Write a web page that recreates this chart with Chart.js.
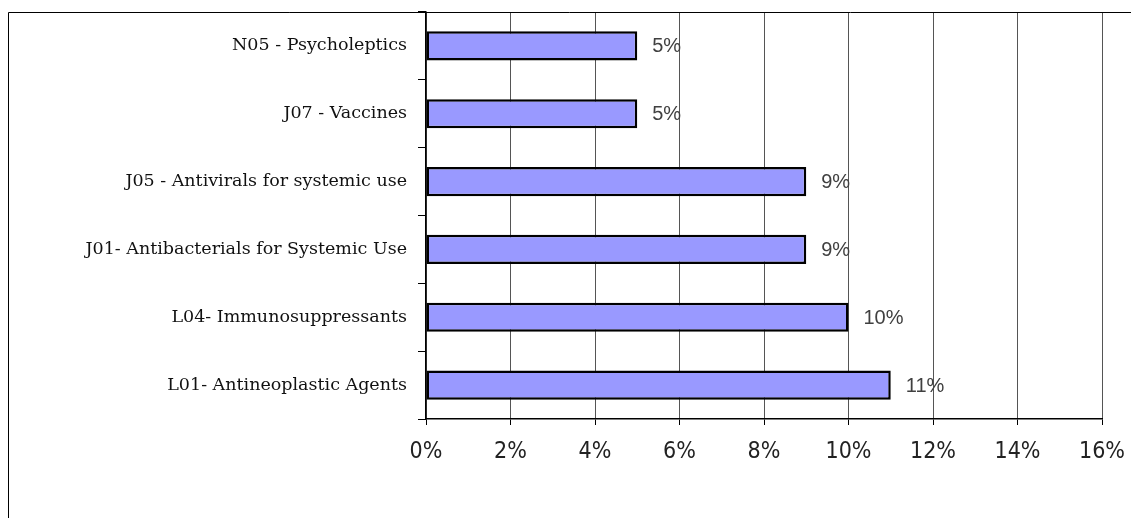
<!DOCTYPE html>
<html>
<head>
<meta charset="utf-8">
<script src="https://cdn.jsdelivr.net/npm/chart.js@4/dist/chart.umd.min.js"></script>
<style>
  body { margin: 0; background: #fff; }
  canvas { display: block; }
</style>
</head>
<body>
<canvas id="bar-chartcanvas" width="1131" height="518"></canvas>
<script>
// ATC groups, top to bottom as in the picture
var categories = [
	"N05 - Psycholeptics",
	"J07 - Vaccines",
	"J05 - Antivirals for systemic use",
	"J01- Antibacterials for Systemic Use",
	"L04- Immunosuppressants",
	"L01- Antineoplastic Agents"
];
var shares = [5, 5, 9, 9, 10, 11];
var xTicks = [0, 2, 4, 6, 8, 10, 12, 14, 16];

// outer frame (left and top edges only are visible)
var framePlugin = {
	id : "frame",
	afterDraw : function(chart) {
		var c = chart.ctx;
		c.save();
		c.strokeStyle = "#000";
		c.lineWidth = 1;
		c.beginPath();
		c.moveTo(8.5, 518);
		c.lineTo(8.5, 12.5);
		c.lineTo(1131, 12.5);
		c.stroke();
		c.restore();
	}
};

// value labels next to the bars
var valueLabels = {
	id : "valueLabels",
	afterDatasetsDraw : function(chart) {
		var c = chart.ctx;
		var meta = chart.getDatasetMeta(0);
		c.save();
		c.font = "20px 'Liberation Sans', Arial, sans-serif";
		c.fillStyle = "#404040";
		c.textAlign = "left";
		c.textBaseline = "middle";
		meta.data.forEach(function(bar, i) {
			c.fillText(shares[i] + "%", bar.x + 15, bar.y + 1);
		});
		c.restore();
	}
};

var ctx = document.getElementById("bar-chartcanvas");

var data = {
	labels : categories,
	datasets : [
		{
			data : shares,
			backgroundColor : "#9999FF",
			borderColor : "#000",
			borderWidth : 2.5,
			borderSkipped : false,
			categoryPercentage : 1,
			barPercentage : 0.43
		}
	]
};

var options = {
	indexAxis : "y",
	responsive : false,
	animation : false,
	devicePixelRatio : 1,
	layout : { padding : { top : 12, right : 29, left : 0, bottom : 0 } },
	plugins : {
		legend : { display : false },
		tooltip : { enabled : false }
	},
	scales : {
		x : {
			min : 0,
			max : 16,
			afterBuildTicks : function(scale) {
				scale.ticks = xTicks.map(function(v) { return { value : v }; });
			},
			afterFit : function(scale) {
				scale.height = 99;
				scale.paddingLeft = 0;
				scale.paddingRight = 0;
			},
			grid : {
				color : "#555",
				lineWidth : 1,
				tickLength : 6,
				tickColor : "#000"
			},
			border : { color : "#000", width : 1.5 },
			ticks : {
				color : "#222",
				padding : 13,
				font : { family : "'DejaVu Sans Condensed', sans-serif", size : 23 },
				callback : function(v) { return v + "%"; }
			}
		},
		y : {
			afterFit : function(scale) {
				scale.width = 426;
				scale.paddingTop = 0;
				scale.paddingBottom = 0;
			},
			grid : {
				drawOnChartArea : false,
				tickLength : 8,
				tickColor : "#000"
			},
			border : { color : "#000", width : 1.5 },
			ticks : {
				color : "#111",
				padding : 11,
				font : { family : "'DejaVu Serif', serif", size : 17.5 }
			}
		}
	}
};

var chart = new Chart(ctx, {
	type : "bar",
	data : data,
	options : options,
	plugins : [framePlugin, valueLabels]
});
</script>
</body>
</html>
